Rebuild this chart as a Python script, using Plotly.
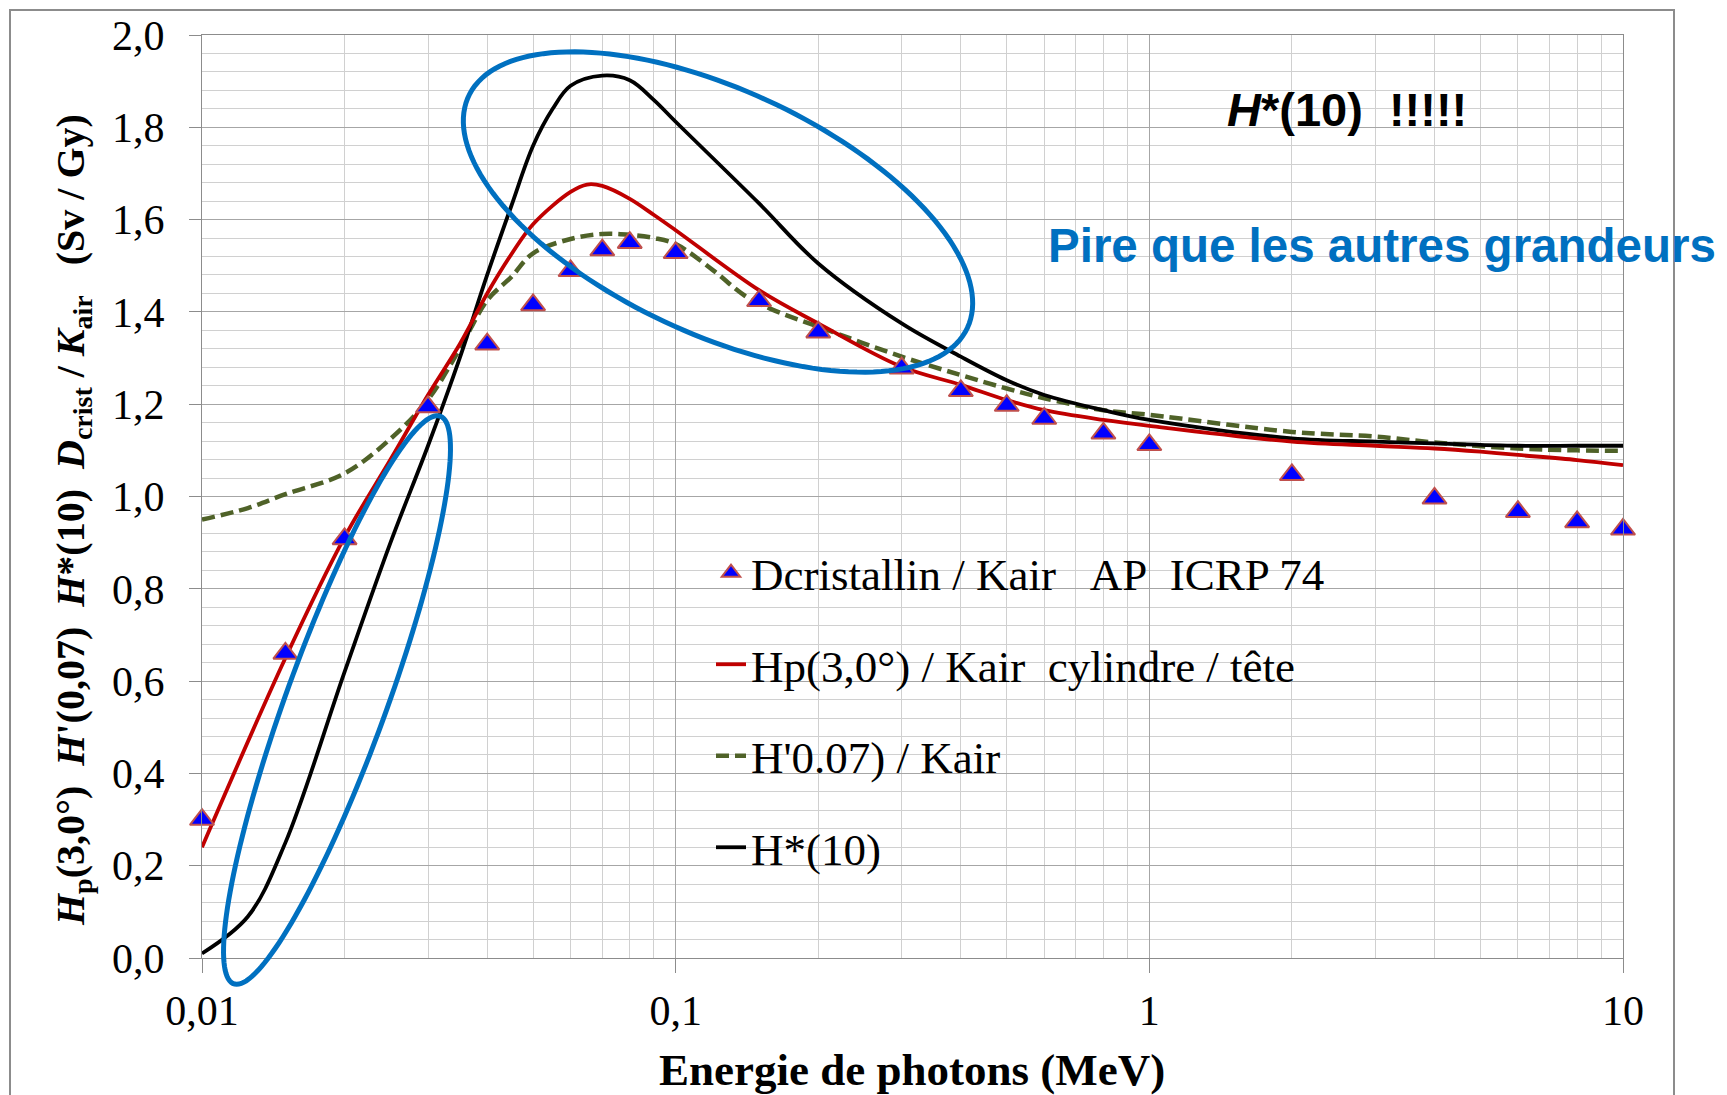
import numpy as np
import plotly.graph_objects as go

# ---------------- data ----------------
E_icrp = [0.01, 0.015, 0.02, 0.03, 0.04, 0.05, 0.06, 0.07, 0.08, 0.1, 0.15, 0.2,
          0.3, 0.4, 0.5, 0.6, 0.8, 1, 2, 4, 6, 8, 10]
D_lens = [0.30, 0.66, 0.908, 1.194, 1.33, 1.415, 1.489, 1.534, 1.55, 1.528, 1.424, 1.356,
          1.278, 1.229, 1.197, 1.169, 1.137, 1.112, 1.047, 0.996, 0.967, 0.945, 0.929]

E_hp = [0.01, 0.015, 0.02, 0.025, 0.03, 0.035, 0.04, 0.045, 0.05, 0.06, 0.065,
        0.07, 0.08, 0.09, 0.1, 0.15, 0.2, 0.3, 0.4, 0.5, 0.6, 0.8, 1, 2, 3, 4, 5, 6, 8, 10]
Hp3 = [0.24, 0.65, 0.912, 1.08, 1.22, 1.33, 1.44, 1.525, 1.59, 1.66, 1.676,
       1.673, 1.645, 1.61, 1.577, 1.447, 1.375, 1.281, 1.242, 1.209, 1.187, 1.166, 1.153,
       1.119, 1.110, 1.104, 1.097, 1.090, 1.079, 1.068]

E_h07 = [0.01, 0.0125, 0.015, 0.02, 0.025, 0.03, 0.035, 0.04, 0.045, 0.05, 0.06, 0.07,
         0.08, 0.09, 0.1, 0.12, 0.14, 0.16, 0.2, 0.3, 0.4, 0.5, 0.6, 0.8, 1, 2, 3, 4, 6, 8, 10]
H007 = [0.95, 0.975, 1.005, 1.05, 1.125, 1.21, 1.32, 1.425, 1.476, 1.527, 1.558, 1.569,
        1.567, 1.56, 1.547, 1.49, 1.435, 1.405, 1.368, 1.303, 1.263, 1.234, 1.213, 1.187,
        1.177, 1.14, 1.13, 1.117, 1.104, 1.10, 1.099]

E_hs = [0.01, 0.0125, 0.015, 0.02, 0.025, 0.03, 0.035, 0.04, 0.045, 0.05, 0.055, 0.06,
        0.07, 0.08, 0.09, 0.1, 0.15, 0.2, 0.3, 0.4, 0.5, 0.6, 0.8, 1, 2, 3, 4,
        6, 8, 10]
Hstar = [0.01, 0.09, 0.25, 0.62, 0.90, 1.11, 1.30, 1.48, 1.63, 1.76, 1.84, 1.89,
         1.912, 1.902, 1.859, 1.812, 1.635, 1.505, 1.375, 1.303, 1.252, 1.22,
         1.187, 1.166, 1.126, 1.119, 1.115, 1.11, 1.11, 1.11]

x_tickvals = [0.01, 0.1, 1, 10]
x_ticktext = ["0,01", "0,1", "1", "10"]
y_tickvals = [0.0, 0.2, 0.4, 0.6, 0.8, 1.0, 1.2, 1.4, 1.6, 1.8, 2.0]
y_ticktext = ["0,0", "0,2", "0,4", "0,6", "0,8", "1,0", "1,2", "1,4", "1,6", "1,8", "2,0"]
x_minor = [m * 10.0 ** d for d in (-2, -1, 0) for m in range(2, 10)]

names = ["Dcristallin / Kair\u00a0\u00a0\u00a0AP\u00a0\u00a0ICRP 74",
         "Hp(3,0°) / Kair\u00a0\u00a0cylindre / tête",
         "H'0.07) / Kair",
         "H*(10)"]

# ---------------- layout geometry ----------------
W, H = 1727, 1095
L, R, T, B = 202, 104, 35, 137
PW, PH = W - L - R, H - T - B


def px2paper(px, py):
    return (px - L) / PW, (H - B - py) / PH


def ellipse_path(cx, cy, a, b, ang_deg, n=160):
    t = np.linspace(0, 2 * np.pi, n)
    th = np.radians(ang_deg)
    xs = cx + a * np.cos(t) * np.cos(th) - b * np.sin(t) * np.sin(th)
    ys = cy + a * np.cos(t) * np.sin(th) + b * np.sin(t) * np.cos(th)
    pts = [px2paper(x, y) for x, y in zip(xs, ys)]
    return "M " + " L ".join(f"{x:.5f},{y:.5f}" for x, y in pts) + " Z"


SERIF = "Liberation Serif, Times New Roman, serif"
SANS = "Liberation Sans, Arial, sans-serif"

fig = go.Figure()

fig.add_trace(go.Scatter(
    x=E_h07, y=H007, mode="lines", name=names[2], legendgroup="g3", legendrank=3,
    line=dict(color="#4F6228", width=4.5, dash="13px,6px", shape="spline", smoothing=1.0)))
fig.add_trace(go.Scatter(
    x=E_hs, y=Hstar, mode="lines", name=names[3], legendgroup="g4", legendrank=4,
    line=dict(color="#000000", width=3.8, shape="spline", smoothing=1.0)))
fig.add_trace(go.Scatter(
    x=E_hp, y=Hp3, mode="lines", name=names[1], legendgroup="g2", legendrank=2,
    line=dict(color="#C00000", width=3.8, shape="spline", smoothing=1.0)))
fig.add_trace(go.Scatter(
    x=E_icrp, y=D_lens, mode="markers", name=names[0], legendgroup="g1", legendrank=1,
    cliponaxis=False,
    marker=dict(symbol="triangle-up", size=21, color="#0000FF",
                line=dict(color="#C0504D", width=2))))

shapes = [
    dict(type="path", xref="paper", yref="paper", layer="above",
         path=ellipse_path(718, 212, 275, 122, 24.9),
         line=dict(color="#0070C0", width=5)),
    dict(type="path", xref="paper", yref="paper", layer="above",
         path=ellipse_path(337, 700, 302, 50, -70),
         line=dict(color="#0070C0", width=5)),
]
fx0, fy0 = px2paper(10, 10)
fx1, fy1 = px2paper(1674, 1110)
shapes.append(dict(type="rect", xref="paper", yref="paper", layer="below",
                   x0=fx0, y0=fy1, x1=fx1, y1=fy0,
                   line=dict(color="#8C8C8C", width=2)))

ytitle = ("<b><i>H</i><sub>p</sub>(3,0°)\u00a0\u00a0<i>H</i>'(0,07)\u00a0\u00a0<i>H</i>*(10)"
          "\u00a0\u00a0<i>D</i><sub>crist</sub> / <i>K</i><sub>air</sub>\u00a0\u00a0\u00a0(Sv / Gy)</b>")

ax_x, ax_y = px2paper(73, 520)
xt_x, xt_y = px2paper(912, 1070)
h_x, h_y = px2paper(1347, 110)
p_x, p_y = px2paper(1046, 245)

annotations = [
    dict(text=ytitle, xref="paper", yref="paper", x=ax_x, y=ax_y, textangle=-90,
         showarrow=False, xanchor="center", yanchor="middle",
         font=dict(family=SERIF, size=40, color="black")),
    dict(text="<b>Energie de photons (MeV)</b>", xref="paper", yref="paper",
         x=xt_x, y=xt_y, showarrow=False, xanchor="center", yanchor="middle",
         font=dict(family=SERIF, size=45, color="black")),
    dict(text="<b><i>H</i>*(10)\u00a0\u00a0!!!!!</b>", xref="paper", yref="paper",
         x=h_x, y=h_y, showarrow=False, xanchor="center", yanchor="middle",
         font=dict(family=SANS, size=47, color="black")),
    dict(text="<b>Pire que les autres grandeurs</b>", xref="paper", yref="paper",
         x=p_x, y=p_y, showarrow=False, xanchor="left", yanchor="middle",
         font=dict(family=SANS, size=47.5, color="#0070C0")),
]

lg_x, lg_y = px2paper(711, 537)

fig.update_layout(
    width=W, height=H, autosize=False,
    margin=dict(l=L, r=R, t=T, b=B, pad=0),
    paper_bgcolor="white", plot_bgcolor="white",
    shapes=shapes, annotations=annotations,
    legend=dict(x=lg_x, y=lg_y, xanchor="left", yanchor="top",
                traceorder="grouped", tracegroupgap=30,
                bgcolor="rgba(0,0,0,0)", borderwidth=0,
                font=dict(family=SERIF, size=45, color="black")),
    showlegend=True,
    xaxis=dict(type="log", range=[-2, 1], tickmode="array",
               tickvals=x_tickvals, ticktext=x_ticktext,
               ticks="outside", ticklen=14, tickcolor="#8C8C8C", tickwidth=1,
               showline=True, linecolor="#8C8C8C", linewidth=1.2, mirror=True,
               showgrid=True, gridcolor="#A6A6A6", gridwidth=1.2,
               zeroline=False, ticklabelstandoff=1,
               tickfont=dict(family=SERIF, size=42, color="black"),
               minor=dict(tickmode="array", tickvals=x_minor, showgrid=True,
                          gridcolor="#D0D0D0", gridwidth=1.3, ticks="")),
    yaxis=dict(range=[0, 2], tickmode="array",
               tickvals=y_tickvals, ticktext=y_ticktext,
               ticks="outside", ticklen=12, tickcolor="#8C8C8C", tickwidth=1,
               showline=True, linecolor="#8C8C8C", linewidth=1.2, mirror=True,
               showgrid=True, gridcolor="#A6A6A6", gridwidth=1.2,
               zeroline=False, ticklabelstandoff=16,
               tickfont=dict(family=SERIF, size=42, color="black"),
               minor=dict(dtick=0.04, showgrid=True, gridcolor="#D0D0D0",
                          gridwidth=1.3, ticks="")),
)

fig.write_html("out.html")
